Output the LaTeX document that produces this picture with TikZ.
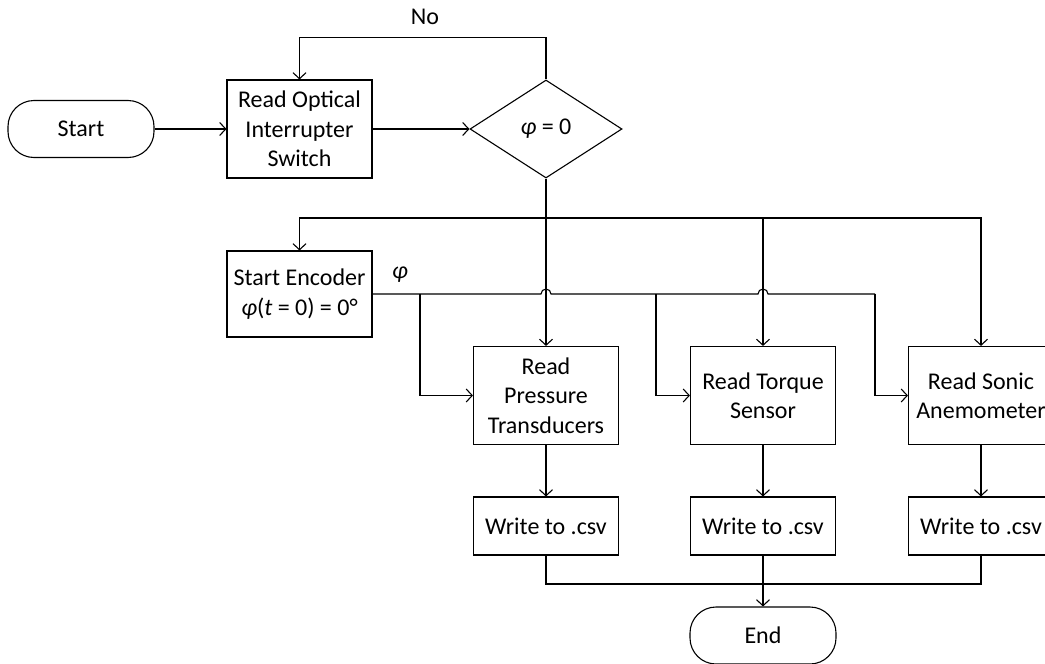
\documentclass[tikz,border=0pt]{standalone}
\usepackage{fontspec}
\setmainfont{Carlito}
\usetikzlibrary{arrows.meta, positioning, shapes.geometric}

\begin{document}
\begin{tikzpicture}[x=1pt, y=-1pt, line width=1.1pt,
    font=\fontsize{24}{29.3}\selectfont,
    box/.style={draw, rectangle, align=center, minimum width=145pt, minimum height=98pt, inner sep=0pt},
    wbox/.style={box, minimum height=58pt},
    term/.style={draw, rectangle, rounded corners=26pt, minimum width=146pt, minimum height=57pt, inner sep=0pt},
    decision/.style={draw, diamond, minimum width=152pt, minimum height=98pt, inner sep=0pt},
    arr/.style={-{Straight Barb[length=6pt,width=13pt]}}]
  \useasboundingbox (0,0) rectangle (1045,664);
  \clip (0,0) rectangle (1045,664);

  % Start and switch check
  \node[term] (start) at (81,129) {Start};
  \node[box] (opt) at (299.5,129) {Read Optical\\Interrupter\\Switch};
  \node[decision] (dec) at (546,129) {{\itshape φ} = 0};
  \node (no) at (425,17) {No};

  % Encoder
  \node[box, minimum height=86pt] (enc) at (299.5,294) {Start Encoder\\{\itshape φ}({\itshape t} = 0) = 0°};
  \node (phi) at (400,275) {\itshape φ};

  % Sensors
  \node[box] (pres) at (546,395.5) {Read\\Pressure\\Transducers};
  \node[box] (torq) at (763,395.5) {Read Torque\\Sensor};
  \node[box] (sonic) at (981,395.5) {Read Sonic\\Anemometer};

  % Output
  \node[wbox] (wp) at (546,526) {Write to .csv};
  \node[wbox] (wt) at (763,526) {Write to .csv};
  \node[wbox] (ws) at (981,526) {Write to .csv};
  \node[term] (end) at (763,635.5) {End};

  % Main flow
  \draw[arr] (start) -- (opt);
  \draw[arr] (opt) -- (dec);
  \draw[arr] (dec.north) -- ++(0,-42) -| (opt.north);

  % Split after check
  \coordinate (split) at (546,218);
  \draw (dec.south) -- (split);
  \draw[arr] (split) -| (enc.north);
  \draw[arr] (split) -| (sonic.north);
  \draw[arr] (split) -- (pres.north);
  \draw[arr] (torq.north |- split) -- (torq.north);

  % Angle signal, with jumps over the vertical lines
  \coordinate (jP) at (420,294);
  \coordinate (jT) at (656,294);
  \coordinate (jS) at (875,294);
  \draw (enc.east) -- (541,294) arc[start angle=180, end angle=360, radius=5]
    -- (758,294) arc[start angle=180, end angle=360, radius=5] -- (jS);
  \draw[arr] (jP) |- (pres.west);
  \draw[arr] (jT) |- (torq.west);
  \draw[arr] (jS) |- (sonic.west);

  % Write and finish
  \draw[arr] (pres) -- (wp);
  \draw[arr] (torq) -- (wt);
  \draw[arr] (sonic) -- (ws);
  \coordinate (merge) at (763,584);
  \draw (wp.south) |- (merge);
  \draw (ws.south) |- (merge);
  \draw[arr] (wt.south) -- (end.north);
\end{tikzpicture}
\end{document}
